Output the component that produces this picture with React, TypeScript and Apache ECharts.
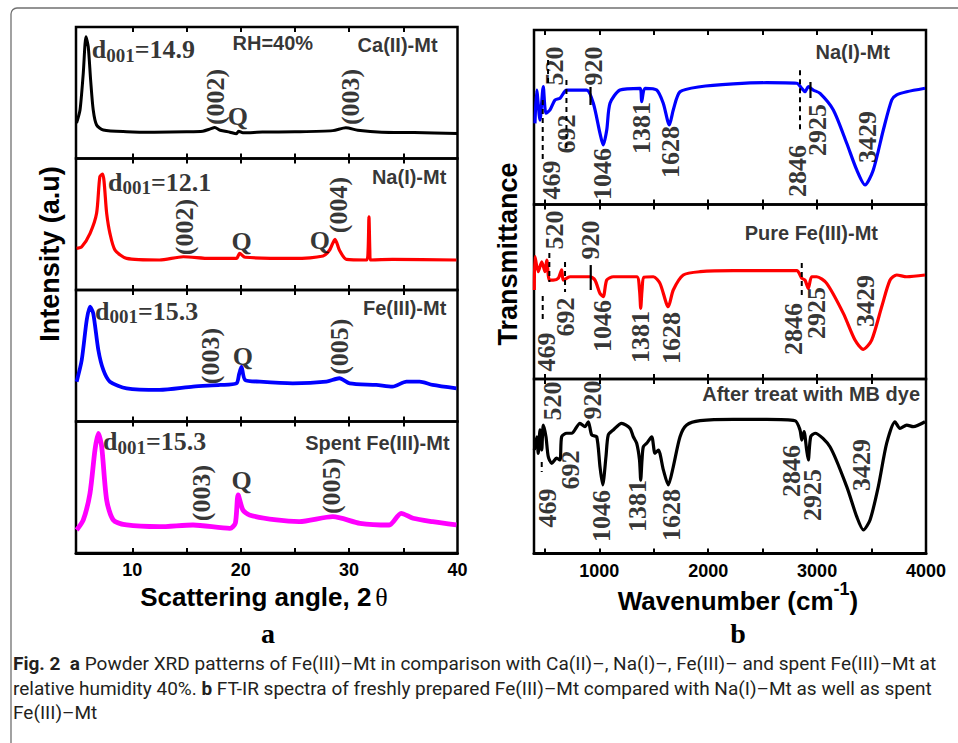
import React, { useEffect, useRef } from "react";
import * as echarts from "echarts";

// ---------------- XRD (panel a): [2θ, relative intensity %] ----------------
const xrdCa: [number, number][] = [
  [4.85, 27.0], [5.17, 36.9], [5.47, 64.8], [5.72, 92.6], [5.93, 85.0], [6.15, 59.7], [6.39, 36.9],
  [6.7, 25.5], [7.32, 21.7], [9.47, 20.4], [12.0, 20.0], [15.0, 20.3], [16.5, 20.8], [17.2, 22.5],
  [17.6, 23.6], [18.1, 21.5], [19.0, 20.0], [19.6, 18.8], [19.8, 20.8], [20.2, 19.5], [22.0, 20.1],
  [25.0, 20.3], [28.5, 21.2], [29.7, 23.4], [30.8, 21.5], [33.0, 20.0], [36.0, 19.8], [40.0, 19.0],
];
const xrdNa: [number, number][] = [
  [4.86, 31.7], [5.33, 32.9], [6.1, 43.1], [6.7, 58.3], [7.0, 86.2], [7.26, 88.2], [7.63, 58.3],
  [7.93, 43.1], [8.4, 30.4], [9.47, 24.0], [12.5, 22.8], [14.7, 25.3], [17.15, 24.0], [19.6, 24.0],
  [19.9, 27.9], [20.4, 24.9], [24.8, 24.0], [27.6, 25.9], [28.2, 30.4], [28.7, 38.6], [29.1, 30.4],
  [29.75, 23.3], [31.6, 22.8], [31.75, 30.0], [31.83, 55.7], [31.91, 30.0], [31.96, 22.8], [34.0, 23.3],
  [39.9, 22.8],
];
const xrdFe: [number, number][] = [
  [4.86, 30.3], [5.33, 46.8], [5.79, 77.2], [6.09, 87.3], [6.39, 82.3], [6.86, 54.4], [7.32, 39.2],
  [7.93, 30.3], [9.47, 25.2], [12.5, 24.0], [15.6, 26.5], [18.1, 27.8], [19.6, 29.0], [19.85, 36.0],
  [20.07, 41.7], [20.4, 31.6], [21.76, 30.3], [24.8, 29.0], [27.9, 30.3], [29.1, 32.9], [30.05, 29.0],
  [32.5, 27.8], [34.0, 26.5], [35.3, 30.3], [36.5, 30.3], [37.7, 27.8], [39.9, 25.2],
];
const xrdSpent: [number, number][] = [
  [4.86, 17.5], [5.47, 25.1], [6.09, 45.4], [6.55, 78.3], [6.86, 91.0], [7.17, 80.8], [7.63, 40.3],
  [8.24, 25.1], [9.47, 21.3], [12.5, 20.0], [15.6, 21.3], [19.0, 18.8], [19.5, 22.6], [19.76, 44.1],
  [20.2, 32.7], [20.8, 28.9], [23.3, 25.1], [25.4, 23.8], [28.5, 27.6], [31.0, 22.6], [33.7, 21.3],
  [34.8, 30.2], [35.9, 26.4], [37.7, 23.8], [39.9, 21.3],
];
const xrdTicks = [10, 15, 20, 25, 30, 35];
const xrdTickLabels = [10, 20, 30, 40];
const xrdNames = ["Ca(II)-Mt", "Na(I)-Mt", "Fe(III)-Mt", "Spent Fe(III)-Mt"];
const xrdDSpacing = ["14.9", "12.1", "15.3", "15.3"];
const rhText = "RH=40%";

// annotation anchors in data units
const xrdDPos: [number, number][] = [[6.25, 84.8], [7.75, 84.4], [6.55, 86.2], [7.29, 86.7]];
const xrdNamePos: [number, number][] = [[38.16, 86.3], [38.97, 86.2], [38.97, 86.3], [39.27, 83.7]];
const rhPos: [number, number] = [22.96, 87.6];
const xrdPeakLabels: [string, number, number][][] = [
  [["(002)", 17.7, 46.8], ["(003)", 30.15, 46.8]],
  [["(002)", 14.85, 47.9], ["(004)", 29.04, 64.6]],
  [["(003)", 17.24, 49.8], ["(005)", 29.13, 56.9]],
  [["(003)", 16.41, 45.6], ["(005)", 28.37, 51.0]],
];
const xrdQLabels: [number, number][][] = [
  [[19.73, 31.8]],
  [[20.07, 36.7], [27.3, 38.0]],
  [[20.19, 49.3]],
  [[20.07, 55.5]],
];

// ---------------- FT-IR (panel b): [wavenumber, relative transmittance %] ----------------
const ftirNa: [number, number][] = [
  [409, 46.5], [425, 65.6], [455, 48.4], [485, 67.5], [510, 52.3], [547, 54.2], [593, 59.9], [639, 60.9],
  [700, 65.6], [884, 65.6], [945, 58.0], [1006, 40.8], [1036, 34.1], [1068, 42.7], [1098, 58.0],
  [1190, 65.6], [1374, 66.6], [1389, 58.9], [1419, 66.6], [1527, 65.6], [1587, 58.0], [1643, 45.6],
  [1679, 54.2], [1741, 64.6], [1925, 67.5], [2230, 69.1], [2537, 69.8], [2813, 69.5], [2859, 66.6],
  [2889, 64.6], [2919, 67.5], [2965, 65.6], [3027, 63.7], [3149, 54.2], [3272, 35.1], [3364, 19.8],
  [3440, 11.2], [3516, 19.8], [3608, 42.7], [3685, 59.9], [3731, 62.8], [3823, 64.6], [3991, 66.6],
];
const ftirFe: [number, number][] = [
  [403, 51.0], [409, 70.1], [439, 61.5], [471, 67.2], [501, 61.5], [517, 68.2], [541, 56.7], [577, 56.7],
  [623, 57.7], [654, 62.5], [669, 56.7], [731, 58.6], [914, 58.6], [960, 56.7], [1006, 49.0], [1036, 47.2],
  [1068, 56.7], [1128, 58.6], [1343, 58.6], [1369, 51.0], [1380, 40.5], [1392, 51.0], [1410, 58.3],
  [1496, 58.6], [1557, 54.8], [1633, 41.4], [1679, 51.0], [1771, 59.6], [1925, 61.5], [2230, 62.1],
  [2537, 62.1], [2813, 62.1], [2859, 57.7], [2889, 56.7], [2919, 51.9], [2950, 58.6], [2996, 58.6],
  [3088, 54.8], [3241, 37.6], [3348, 22.3], [3424, 17.0], [3501, 22.3], [3593, 41.4], [3670, 56.7],
  [3731, 59.6], [3823, 58.6], [3991, 59.6],
];
const ftirMB: [number, number][] = [
  [403, 59.3], [425, 66.9], [439, 57.4], [455, 70.8], [471, 59.3], [485, 73.6], [510, 66.9], [531, 55.5],
  [563, 51.7], [608, 54.6], [639, 53.6], [654, 66.9], [700, 68.9], [746, 68.9], [822, 74.6], [868, 72.7],
  [899, 75.5], [930, 67.9], [976, 66.9], [1006, 49.7], [1031, 39.3], [1061, 55.5], [1082, 67.9],
  [1128, 70.8], [1205, 74.6], [1282, 71.7], [1312, 66.9], [1343, 63.2], [1369, 53.6], [1380, 42.1],
  [1392, 53.6], [1404, 61.2], [1435, 63.2], [1481, 66.9], [1511, 57.4], [1542, 59.3], [1588, 47.9],
  [1633, 39.3], [1679, 49.7], [1741, 66.9], [1802, 73.6], [1925, 76.1], [2230, 76.9], [2537, 76.9],
  [2797, 76.1], [2843, 70.8], [2859, 65.0], [2880, 69.8], [2904, 59.3], [2919, 53.6], [2941, 66.9],
  [2981, 68.9], [3118, 61.2], [3272, 38.3], [3364, 21.1], [3425, 13.5], [3486, 19.2], [3562, 38.3],
  [3639, 63.2], [3715, 75.5], [3761, 71.7], [3823, 73.6], [3883, 72.7], [3991, 75.5],
];
const ftirTicks = [500, 1000, 1500, 2000, 2500, 3000, 3500];
const ftirTickLabels = [1000, 2000, 3000, 4000];
const ftirNames = ["Na(I)-Mt", "Pure Fe(III)-Mt", "After treat with MB dye"];
const ftirNamePos: [number, number][] = [[3669, 87.6], [3559, 83.5], [3945, 91.4]];
const ftirBandLabels: [string, number, number][][] = [
  [["469", 565, 14.0], ["520", 584, 79.4], ["692", 703, 40.4], ["920", 951, 79.4], ["1046", 1025, 17.5],
   ["1381", 1383, 43.8], ["1628", 1649, 30.1], ["2846", 2820, 19.2], ["2925", 3008, 42.7], ["3429", 3467, 38.7]],
  [["469", 519, 15.5], ["520", 584, 85.4], ["692", 685, 35.5], ["920", 923, 79.7], ["1046", 1025, 30.4],
   ["1381", 1374, 24.1], ["1628", 1665, 23.5], ["2846", 2779, 28.7], ["2925", 2996, 37.8], ["3429", 3440, 44.7]],
  [["469", 524, 26.1], ["520", 570, 87.4], ["692", 731, 47.9], ["920", 937, 88.0], ["1046", 1022, 21.5],
   ["1381", 1355, 27.2], ["1628", 1665, 22.1], ["2846", 2767, 47.3], ["2925", 2962, 33.5], ["3429", 3410, 50.7]],
];
// band marker segments: [wavenumber, from, to]
const ftirDashedMarks: [number, number, number][][] = [
  [[480, 59.9, 25.5], [529, 82.8, 68.5], [698, 71.3, 31.2], [2843, 77.0, 42.7]],
  [[480, 47.6, 33.8], [541, 72.2, 55.6], [685, 67.0, 49.9], [2859, 66.5, 47.0]],
  [[471, 52.4, 46.7]],
];
const ftirSolidMarks: [number, number, number][][] = [
  [[919, 67.3, 57.0], [2939, 70.2, 61.0]],
  [[921, 65.3, 51.0]],
  [],
];

const captionLines = [
  "{b|Fig. 2}{r|  }{b|a}{r| Powder XRD patterns of Fe(III)–Mt in comparison with Ca(II)–, Na(I)–, Fe(III)– and spent Fe(III)–Mt at}",
  "{r|relative humidity 40%. }{b|b}{r| FT-IR spectra of freshly prepared Fe(III)–Mt compared with Na(I)–Mt as well as spent}",
  "{r|Fe(III)–Mt}",
];

const SERIF = "'Liberation Serif', 'Times New Roman', serif";
const SANS = "'Liberation Sans', Arial, sans-serif";
const CAPTION_FONT = "Roboto, 'Noto Sans', sans-serif";

function buildOption() {
  const grids: any[] = [];
  const xAxes: any[] = [];
  const yAxes: any[] = [];
  const series: any[] = [];

  const addPanel = (left: number, top: number, width: number, height: number, min: number, max: number,
    ticks: number[], labels: number[], showLabels: boolean) => {
    const gi = grids.length;
    grids.push({ left, top, width, height, show: true, borderColor: "#000", borderWidth: 2.5, containLabel: false });
    const tick = { show: true, inside: true, length: 5, customValues: ticks, lineStyle: { color: "#000", width: 2 } };
    xAxes.push({
      type: "value", gridIndex: gi, min, max, position: "bottom",
      axisLine: { show: showLabels, lineStyle: { color: "#000", width: 3 } },
      splitLine: { show: false },
      axisTick: tick,
      axisLabel: showLabels
        ? {
            show: true, customValues: labels, margin: 8, color: "#000", fontFamily: SANS, fontWeight: "bold", fontSize: 18,
            formatter: (v: number) => String(Math.round(v)),
          }
        : { show: false },
    });
    xAxes.push({
      type: "value", gridIndex: gi, min, max, position: "top",
      axisLine: { show: false }, splitLine: { show: false }, axisTick: tick, axisLabel: { show: false },
    });
    yAxes.push({ type: "value", gridIndex: gi, min: 0, max: 100, show: false });
    return gi;
  };

  const lineSeries = (gi: number, data: [number, number][], color: string, width: number) => ({
    type: "line", xAxisIndex: gi * 2, yAxisIndex: gi, data, showSymbol: false, symbol: "none",
    smooth: 0.25, lineStyle: { color, width, join: "round" }, z: 3, silent: true,
  });

  const textSeries = (gi: number, items: any[]) => ({
    type: "scatter", xAxisIndex: gi * 2, yAxisIndex: gi, symbolSize: 1, silent: true, z: 5,
    itemStyle: { color: "rgba(0,0,0,0)" },
    label: { show: true, position: "inside", color: "#000" },
    data: items,
  });

  const serifLabel = (text: string, x: number, y: number, rotate: number) => ({
    value: [x, y],
    label: { formatter: text, rotate, align: "center", verticalAlign: "middle", fontFamily: SERIF, fontWeight: "bold", fontSize: 26, color: "#000" },
  });
  const sansLabel = (text: string, x: number, y: number, align: string) => ({
    value: [x, y],
    label: { formatter: text, align, verticalAlign: "middle", fontFamily: SANS, fontWeight: "bold", fontSize: 20, color: "#000" },
  });
  const dLabel = (d: string, x: number, y: number) => ({
    value: [x, y],
    label: {
      formatter: `{m|d}{s|001}{m|=${d}}`, align: "left", verticalAlign: "middle", offset: [0, 4],
      rich: {
        m: { fontFamily: SERIF, fontWeight: "bold", fontSize: 26, lineHeight: 28, verticalAlign: "top", color: "#000" },
        s: { fontFamily: SERIF, fontWeight: "bold", fontSize: 19, lineHeight: 19, padding: [16, 0, 0, 0], verticalAlign: "bottom", color: "#000" },
      },
    },
  });

  // ---- panel a ----
  const xrdData = [xrdCa, xrdNa, xrdFe, xrdSpent];
  const xrdColors = ["#000000", "#ff0000", "#0000ff", "#ff00ff"];
  const xrdWidths = [3, 3.2, 3.8, 4.8];
  const aTops = [27, 158.5, 290, 421.5];
  xrdData.forEach((data, i) => {
    const gi = addPanel(76, aTops[i], 381.5, 131.5, 4.8, 40, xrdTicks, xrdTickLabels, i === 3);
    series.push(lineSeries(gi, data, xrdColors[i], xrdWidths[i]));
    const items: any[] = [];
    items.push(dLabel(xrdDSpacing[i], xrdDPos[i][0], xrdDPos[i][1]));
    items.push(sansLabel(xrdNames[i], xrdNamePos[i][0], xrdNamePos[i][1], "right"));
    if (i === 0) items.push(sansLabel(rhText, rhPos[0], rhPos[1], "center"));
    xrdPeakLabels[i].forEach(([t, x, y]) => items.push(serifLabel(t, x, y, 90)));
    xrdQLabels[i].forEach(([x, y]) => items.push(serifLabel("Q", x, y, 0)));
    series.push(textSeries(gi, items));
  });

  // ---- panel b ----
  const ftirData = [ftirNa, ftirFe, ftirMB];
  const ftirColors = ["#0000ff", "#ff0000", "#000000"];
  const bTops = [30, 204.5, 379];
  ftirData.forEach((data, i) => {
    const gi = addPanel(534, bTops[i], 392, 174.5, 400, 4000, ftirTicks, ftirTickLabels, i === 2);
    series.push(lineSeries(gi, data, ftirColors[i], 3.2));
    const items: any[] = [];
    items.push(sansLabel(ftirNames[i], ftirNamePos[i][0], ftirNamePos[i][1], "right"));
    ftirBandLabels[i].forEach(([t, x, y]) => items.push(serifLabel(t, x, y, 90)));
    series.push(textSeries(gi, items));
    ftirDashedMarks[i].forEach(([x, a, b]) => series.push({
      type: "line", xAxisIndex: gi * 2, yAxisIndex: gi, data: [[x, a], [x, b]], showSymbol: false, symbol: "none",
      lineStyle: { color: "#000", width: 2, type: [5, 4] }, z: 4, silent: true,
    }));
    ftirSolidMarks[i].forEach(([x, a, b]) => series.push({
      type: "line", xAxisIndex: gi * 2, yAxisIndex: gi, data: [[x, a], [x, b]], showSymbol: false, symbol: "none",
      lineStyle: { color: "#000", width: 2.2 }, z: 4, silent: true,
    }));
  });

  const bothAlign = (h: string, v: string) => ({ align: h, textAlign: h, verticalAlign: v, textVerticalAlign: v });

  const graphic: any[] = [
    {
      type: "rect", silent: true, z: 0,
      shape: { x: 11, y: 8, width: 1200, height: 1000, r: [6, 0, 0, 0] },
      style: { fill: "none", stroke: "#707070", lineWidth: 1.3 },
    },
    {
      type: "text", x: 50, y: 254, rotation: Math.PI / 2, silent: true,
      style: { text: "Intensity (a.u)", fill: "#000", font: `bold 27px ${SANS}`, ...bothAlign("center", "middle") },
    },
    {
      type: "text", x: 508, y: 254, rotation: Math.PI / 2, silent: true,
      style: { text: "Transmittance", fill: "#000", font: `bold 27px ${SANS}`, ...bothAlign("center", "middle") },
    },
    {
      type: "text", x: 264, y: 597, silent: true,
      style: {
        text: "{n|Scattering angle, 2}{t|θ}", ...bothAlign("center", "middle"),
        rich: {
          n: { fontFamily: SANS, fontWeight: "bold", fontSize: 26, fill: "#000", color: "#000" },
          t: { fontFamily: SERIF, fontWeight: "normal", fontSize: 26, fill: "#000", color: "#000", padding: [0, 0, 0, 4] },
        },
      },
    },
    {
      type: "text", x: 738, y: 597, silent: true,
      style: {
        text: "{n|Wavenumber (cm}{s|-1}{n|)}", ...bothAlign("center", "middle"),
        rich: {
          n: { fontFamily: SANS, fontWeight: "bold", fontSize: 26, lineHeight: 34, verticalAlign: "bottom", fill: "#000", color: "#000" },
          s: { fontFamily: SANS, fontWeight: "bold", fontSize: 18, lineHeight: 18, verticalAlign: "top", fill: "#000", color: "#000" },
        },
      },
    },
    {
      type: "text", x: 268, y: 633, silent: true,
      style: { text: "a", fill: "#000", font: `bold 28px ${SERIF}`, ...bothAlign("center", "middle") },
    },
    {
      type: "text", x: 738, y: 633, silent: true,
      style: { text: "b", fill: "#000", font: `bold 28px ${SERIF}`, ...bothAlign("center", "middle") },
    },
  ];
  const capY = [663, 688, 712];
  captionLines.forEach((line, i) => {
    graphic.push({
      type: "text", x: 13, y: capY[i], silent: true,
      style: {
        text: line, ...bothAlign("left", "middle"),
        rich: {
          r: { fontFamily: CAPTION_FONT, fontSize: 19, fontWeight: "normal", fill: "#231f20", color: "#231f20" },
          b: { fontFamily: CAPTION_FONT, fontSize: 19, fontWeight: "bold", fill: "#231f20", color: "#231f20" },
        },
      },
    });
  });

  return {
    animation: false,
    backgroundColor: "#ffffff",
    grid: grids,
    xAxis: xAxes,
    yAxis: yAxes,
    series,
    graphic,
  };
}

export default function App() {
  const ref = useRef<HTMLDivElement>(null);
  useEffect(() => {
    if (!ref.current) return;
    const chart = echarts.init(ref.current, null, { renderer: "svg" });
    chart.setOption(buildOption() as any);
    return () => chart.dispose();
  }, []);
  return (
    <div
      ref={ref}
      style={{ position: "absolute", left: 0, top: 0, width: 958, height: 743, background: "#fff" }}
    />
  );
}
